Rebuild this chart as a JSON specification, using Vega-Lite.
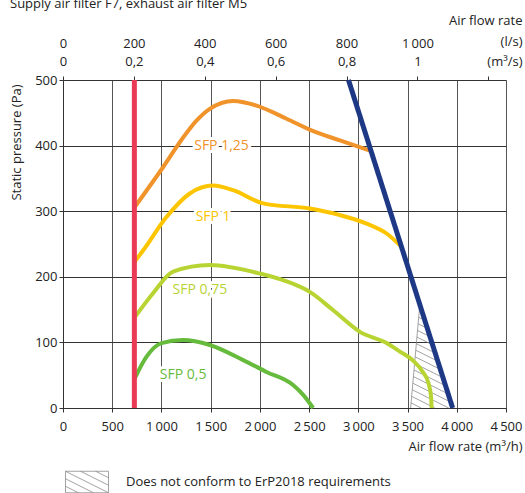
{
  "$schema": "https://vega.github.io/schema/vega-lite/v6.json",
  "autosize": "none",
  "padding": {"left": 63, "top": 80, "right": 19, "bottom": 85},
  "width": 443,
  "height": 328,
  "title": {
    "text": "Supply air filter F7, exhaust air filter M5",
    "anchor": "start",
    "frame": "group",
    "dx": -53,
    "fontSize": 13,
    "fontWeight": "normal",
    "font": "Open Sans",
    "color": "#222"
  },
  "datasets": {
    "hatch": [
      {"zone": "Does not conform to ErP2018 requirements", "x": 3531, "y": 0, "x2": 3625, "y2": 158},
      {"zone": "Does not conform to ErP2018 requirements", "x": 3536, "y": 7.7, "x2": 3638, "y2": 0},
      {"zone": "Does not conform to ErP2018 requirements", "x": 3542, "y": 17.7, "x2": 3778, "y2": 0},
      {"zone": "Does not conform to ErP2018 requirements", "x": 3548, "y": 27.8, "x2": 3918, "y2": 0},
      {"zone": "Does not conform to ErP2018 requirements", "x": 3554, "y": 37.8, "x2": 3939, "y2": 8.9},
      {"zone": "Does not conform to ErP2018 requirements", "x": 3560, "y": 47.9, "x2": 3913, "y2": 21.4},
      {"zone": "Does not conform to ErP2018 requirements", "x": 3566, "y": 57.9, "x2": 3887, "y2": 33.9},
      {"zone": "Does not conform to ErP2018 requirements", "x": 3571, "y": 68, "x2": 3860, "y2": 46.3},
      {"zone": "Does not conform to ErP2018 requirements", "x": 3577, "y": 78, "x2": 3834, "y2": 58.8},
      {"zone": "Does not conform to ErP2018 requirements", "x": 3583, "y": 88.1, "x2": 3808, "y2": 71.3},
      {"zone": "Does not conform to ErP2018 requirements", "x": 3589, "y": 98.1, "x2": 3782, "y2": 83.7},
      {"zone": "Does not conform to ErP2018 requirements", "x": 3595, "y": 108.2, "x2": 3755, "y2": 96.2},
      {"zone": "Does not conform to ErP2018 requirements", "x": 3601, "y": 118.2, "x2": 3729, "y2": 108.7},
      {"zone": "Does not conform to ErP2018 requirements", "x": 3607, "y": 128.3, "x2": 3703, "y2": 121.2},
      {"zone": "Does not conform to ErP2018 requirements", "x": 3613, "y": 138.3, "x2": 3676, "y2": 133.6},
      {"zone": "Does not conform to ErP2018 requirements", "x": 3619, "y": 148.4, "x2": 3650, "y2": 146.1}
    ],
    "curves": [
      {"sfp": "1.25", "x": 722, "y": 305},
      {"sfp": "1.25", "x": 1016, "y": 367},
      {"sfp": "1.25", "x": 1219, "y": 412},
      {"sfp": "1.25", "x": 1356, "y": 438},
      {"sfp": "1.25", "x": 1491, "y": 456},
      {"sfp": "1.25", "x": 1729, "y": 468},
      {"sfp": "1.25", "x": 1966, "y": 461},
      {"sfp": "1.25", "x": 2271, "y": 441},
      {"sfp": "1.25", "x": 2542, "y": 422},
      {"sfp": "1.25", "x": 2813, "y": 408},
      {"sfp": "1.25", "x": 3125, "y": 392},
      {"sfp": "1", "x": 722, "y": 222},
      {"sfp": "1", "x": 813, "y": 240},
      {"sfp": "1", "x": 1051, "y": 291},
      {"sfp": "1", "x": 1288, "y": 327},
      {"sfp": "1", "x": 1525, "y": 339},
      {"sfp": "1", "x": 1729, "y": 332},
      {"sfp": "1", "x": 2033, "y": 312},
      {"sfp": "1", "x": 2507, "y": 304},
      {"sfp": "1", "x": 2813, "y": 294},
      {"sfp": "1", "x": 3084, "y": 281},
      {"sfp": "1", "x": 3287, "y": 266},
      {"sfp": "1", "x": 3430, "y": 247},
      {"sfp": "0.75", "x": 722, "y": 137},
      {"sfp": "0.75", "x": 915, "y": 175},
      {"sfp": "0.75", "x": 1118, "y": 208},
      {"sfp": "0.75", "x": 1491, "y": 218},
      {"sfp": "0.75", "x": 1999, "y": 205},
      {"sfp": "0.75", "x": 2271, "y": 193},
      {"sfp": "0.75", "x": 2507, "y": 177},
      {"sfp": "0.75", "x": 2745, "y": 149},
      {"sfp": "0.75", "x": 3016, "y": 116},
      {"sfp": "0.75", "x": 3287, "y": 99},
      {"sfp": "0.75", "x": 3422, "y": 86},
      {"sfp": "0.75", "x": 3558, "y": 72},
      {"sfp": "0.75", "x": 3650, "y": 56},
      {"sfp": "0.75", "x": 3712, "y": 38},
      {"sfp": "0.75", "x": 3738, "y": 18},
      {"sfp": "0.75", "x": 3745, "y": 0},
      {"sfp": "0.5", "x": 722, "y": 43},
      {"sfp": "0.5", "x": 847, "y": 78},
      {"sfp": "0.5", "x": 1000, "y": 99},
      {"sfp": "0.5", "x": 1219, "y": 103.5},
      {"sfp": "0.5", "x": 1491, "y": 96},
      {"sfp": "0.5", "x": 1830, "y": 73},
      {"sfp": "0.5", "x": 2067, "y": 55},
      {"sfp": "0.5", "x": 2337, "y": 35},
      {"sfp": "0.5", "x": 2440, "y": 20},
      {"sfp": "0.5", "x": 2541, "y": 0}
    ],
    "minflow": [{"x": 725, "y": 0, "y2": 500}],
    "maxflow": [{"x": 2900, "y": 500, "x2": 3958, "y2": 0}],
    "labels": [
      {"sfp": "1.25", "text": "SFP 1,25", "x": 1610, "y": 400},
      {"sfp": "1", "text": "SFP 1", "x": 1525, "y": 291},
      {"sfp": "0.75", "text": "SFP 0,75", "x": 1390, "y": 180},
      {"sfp": "0.5", "text": "SFP 0,5", "x": 1220, "y": 50}
    ]
  },
  "resolve": {"axis": {"x": "independent"}},
  "layer": [
    {
      "data": {"name": "hatch"},
      "mark": {"type": "rule", "strokeWidth": 0.8},
      "encoding": {
        "x": {
          "field": "x",
          "type": "quantitative",
          "scale": {"domain": [0, 4500], "nice": false},
          "axis": {
            "values": [0, 500, 1000, 1500, 2000, 2500, 3000, 3500, 4000, 4500],
            "labelExpr": "datum.value >= 1000 ? replace(format(datum.value, ','), ',', '\u2009') : format(datum.value, 'd')",
            "grid": true,
            "gridColor": "#555",
            "tickSize": 4,
            "labelPadding": 8,
            "labelFlush": false,
            "labelOverlap": false,
            "title": "Air flow rate (m³/h)",
            "titleX": 459,
            "titleY": 38,
            "titleAlign": "right",
            "titleBaseline": "middle"
          }
        },
        "x2": {"field": "x2"},
        "y": {
          "field": "y",
          "type": "quantitative",
          "scale": {"domain": [0, 500], "nice": false},
          "axis": {
            "values": [0, 100, 200, 300, 400, 500],
            "grid": true,
            "gridColor": "#333",
            "tickSize": 4,
            "labelPadding": 2,
            "title": "Static pressure (Pa)",
            "titleX": -47,
            "titleY": 62,
            "titleAlign": "center",
            "titleBaseline": "middle"
          }
        },
        "y2": {"field": "y2"},
        "stroke": {
          "field": "zone",
          "type": "nominal",
          "scale": {"range": ["#8c8c8c"]},
          "legend": {
            "orient": "none",
            "legendX": 2,
            "legendY": 380,
            "title": null,
            "symbolType": "M-1,-0.5H1V0.5H-1ZM0.4,-0.5L1,-0.2M-0.3,-0.5L1,0.15M-1,-0.5L1,0.5M-1,-0.15L0.3,0.5M-1,0.2L-0.4,0.5",
            "symbolSize": 1849,
            "symbolStrokeWidth": 0.8,
            "symbolFillColor": "transparent",
            "labelFont": "Open Sans",
            "labelFontSize": 13,
            "labelColor": "#222",
            "labelOffset": 17,
            "labelLimit": 400
          }
        }
      }
    },
    {
      "data": {"name": "curves"},
      "mark": {"type": "line", "interpolate": "monotone", "strokeWidth": 4},
      "encoding": {
        "x": {"field": "x", "type": "quantitative", "axis": null},
        "y": {"field": "y", "type": "quantitative"},
        "color": {
          "field": "sfp",
          "type": "nominal",
          "scale": {
            "domain": ["1.25", "1", "0.75", "0.5"],
            "range": ["#f0932b", "#fcc500", "#b8d432", "#66bb3c"]
          },
          "legend": null
        },
        "detail": {"field": "sfp"}
      }
    },
    {
      "data": {"name": "minflow"},
      "mark": {"type": "rule", "color": "#ea3b56", "strokeWidth": 5},
      "encoding": {
        "x": {
          "field": "x",
          "type": "quantitative",
          "axis": {
            "orient": "top",
            "values": [0, 720, 1440, 2160, 2880, 3600, 4320],
            "labelExpr": "datum.value == 4320 ? '' : [datum.value == 3600 ? '1\u2009000' : format(datum.value / 3.6, 'd'), replace(format(datum.value / 3600, '~g'), '.', ',')]",
            "grid": false,
            "domain": false,
            "tickSize": 4,
            "labelPadding": 26,
            "labelLineHeight": 18,
            "labelFlush": false,
            "labelOverlap": false,
            "title": ["Air flow rate", "(l/s)", "(m³/s)"],
            "titleLineHeight": 20.5,
            "titleX": 459,
            "titleY": -55.5,
            "titleAlign": "right",
            "titleBaseline": "alphabetic"
          }
        },
        "y": {"field": "y", "type": "quantitative"},
        "y2": {"field": "y2"}
      }
    },
    {
      "data": {"name": "maxflow"},
      "mark": {"type": "rule", "color": "#1d3885", "strokeWidth": 5},
      "encoding": {
        "x": {"field": "x", "type": "quantitative", "axis": null},
        "x2": {"field": "x2"},
        "y": {"field": "y", "type": "quantitative"},
        "y2": {"field": "y2"}
      }
    },
    {
      "data": {"name": "labels"},
      "mark": {"type": "text", "font": "Open Sans", "fontSize": 14, "fill": "white", "stroke": "white", "strokeWidth": 6, "strokeJoin": "round"},
      "encoding": {
        "x": {"field": "x", "type": "quantitative", "axis": null},
        "y": {"field": "y", "type": "quantitative"},
        "text": {"field": "text"}
      }
    },
    {
      "data": {"name": "labels"},
      "mark": {"type": "text", "font": "Open Sans", "fontSize": 14},
      "encoding": {
        "x": {"field": "x", "type": "quantitative", "axis": null},
        "y": {"field": "y", "type": "quantitative"},
        "text": {"field": "text"},
        "color": {"field": "sfp", "type": "nominal", "legend": null}
      }
    }
  ],
  "config": {
    "view": {"stroke": null},
    "axis": {
      "labelFont": "Open Sans",
      "labelFontSize": 13,
      "labelColor": "#222",
      "titleFont": "Open Sans",
      "titleFontSize": 13,
      "titleFontWeight": "normal",
      "titleColor": "#222",
      "tickColor": "#333",
      "domainColor": "#333",
      "gridWidth": 1
    }
  }
}
